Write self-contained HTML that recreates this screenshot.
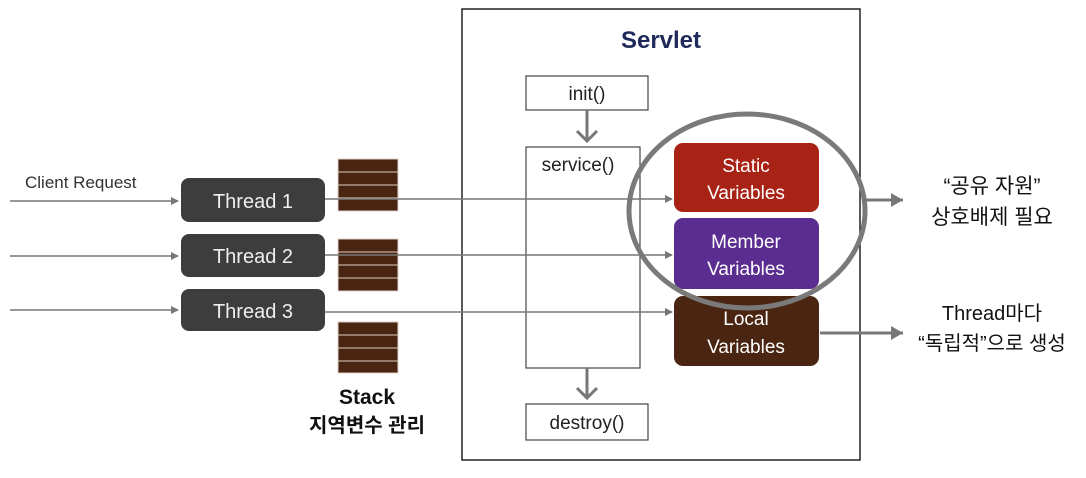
<!DOCTYPE html>
<html><head><meta charset="utf-8"><style>body{margin:0;background:#fff}svg{display:block}text{font-family:"Liberation Sans","Noto Sans CJK KR",sans-serif}</style></head><body>
<svg width="1086" height="478" viewBox="0 0 1086 478" xmlns="http://www.w3.org/2000/svg">
<defs><marker id="a" markerWidth="8" markerHeight="8" refX="7" refY="4" orient="auto" markerUnits="userSpaceOnUse"><path d="M0,0 L8,4 L0,8z" fill="#777"/></marker>
<marker id="b" markerWidth="14" markerHeight="14" refX="12" refY="7" orient="auto" markerUnits="userSpaceOnUse"><path d="M0,0 L12,7 L0,14z" fill="#777"/></marker></defs>
<rect x="462" y="9" width="398" height="451" fill="#fff" stroke="#222" stroke-width="1.5"/>
<text x="661" y="48" font-size="24" font-weight="bold" fill="#1f2a5a" text-anchor="middle">Servlet</text>
<rect x="526" y="76" width="122" height="34" fill="#fff" stroke="#444" stroke-width="1.2"/>
<text x="587" y="100" font-size="19" text-anchor="middle" fill="#222">init()</text>
<path d="M587 110 V140 M577 131 L587 141 L597 131" stroke="#777" stroke-width="3" fill="none"/>
<rect x="526" y="147" width="114" height="221" fill="#fff" stroke="#444" stroke-width="1.2"/>
<text x="578" y="171" font-size="19" text-anchor="middle" fill="#222">service()</text>
<path d="M587 368 V397 M577 388 L587 398 L597 388" stroke="#777" stroke-width="3" fill="none"/>
<rect x="526" y="404" width="122" height="36" fill="#fff" stroke="#444" stroke-width="1.2"/>
<text x="587" y="429" font-size="19" text-anchor="middle" fill="#222">destroy()</text>
<rect x="674" y="143" width="145" height="69" rx="9" fill="#a82216"/>
<text x="746" y="172" font-size="19" fill="#fff" text-anchor="middle">Static</text>
<text x="746" y="199" font-size="19" fill="#fff" text-anchor="middle">Variables</text>
<rect x="674" y="218" width="145" height="71" rx="9" fill="#5c2d91"/>
<text x="746" y="248" font-size="19" fill="#fff" text-anchor="middle">Member</text>
<text x="746" y="275" font-size="19" fill="#fff" text-anchor="middle">Variables</text>
<rect x="674" y="296" width="145" height="70" rx="9" fill="#4a2511"/>
<text x="746" y="325" font-size="19" fill="#fff" text-anchor="middle">Local</text>
<text x="746" y="353" font-size="19" fill="#fff" text-anchor="middle">Variables</text>
<ellipse cx="747" cy="211" rx="118" ry="97" fill="none" stroke="#7a7a7a" stroke-width="5"/>
<line x1="862" y1="200" x2="903" y2="200" stroke="#777" stroke-width="3" marker-end="url(#b)"/>
<line x1="820" y1="333" x2="903" y2="333" stroke="#777" stroke-width="3" marker-end="url(#b)"/>
<text x="992" y="193" font-size="21" text-anchor="middle" fill="#111">“공유 자원”</text>
<text x="992" y="224" font-size="21" text-anchor="middle" fill="#111">상호배제 필요</text>
<text x="992" y="320" font-size="20" text-anchor="middle" fill="#111">Thread마다</text>
<text x="992" y="350" font-size="20" text-anchor="middle" fill="#111">“독립적”으로 생성</text>
<text x="25" y="188" font-size="17" fill="#333">Client Request</text>
<g fill="#4a2511" stroke="#e0d0c8" stroke-width="1">
<rect x="338" y="159" width="60" height="13"/><rect x="338" y="172" width="60" height="13"/><rect x="338" y="185" width="60" height="13"/><rect x="338" y="198" width="60" height="13"/>
<rect x="338" y="239" width="60" height="13"/><rect x="338" y="252" width="60" height="13"/><rect x="338" y="265" width="60" height="13"/><rect x="338" y="278" width="60" height="13"/>
<rect x="338" y="322" width="60" height="13"/><rect x="338" y="335" width="60" height="13"/><rect x="338" y="348" width="60" height="13"/><rect x="338" y="361" width="60" height="12"/>
</g>
<g stroke="#777" stroke-width="1.5">
<line x1="10" y1="201" x2="178" y2="201" marker-end="url(#a)"/>
<line x1="10" y1="256" x2="178" y2="256" marker-end="url(#a)"/>
<line x1="10" y1="310" x2="178" y2="310" marker-end="url(#a)"/>
<line x1="325" y1="199" x2="672" y2="199" marker-end="url(#a)"/>
<line x1="325" y1="255" x2="672" y2="255" marker-end="url(#a)"/>
<line x1="325" y1="312" x2="672" y2="312" marker-end="url(#a)"/>
</g>
<g fill="#3d3d3d"><rect x="181" y="178" width="144" height="44" rx="8"/><rect x="181" y="234" width="144" height="43" rx="8"/><rect x="181" y="289" width="144" height="42" rx="8"/></g>
<g font-size="20" fill="#eee" text-anchor="middle"><text x="253" y="208">Thread  1</text><text x="253" y="263">Thread  2</text><text x="253" y="318">Thread  3</text></g>
<text x="367" y="404" font-size="21" font-weight="bold" text-anchor="middle" fill="#111">Stack</text>
<text x="367" y="432" font-size="20" font-weight="bold" text-anchor="middle" fill="#111">지역변수 관리</text>
</svg>
</body></html>
